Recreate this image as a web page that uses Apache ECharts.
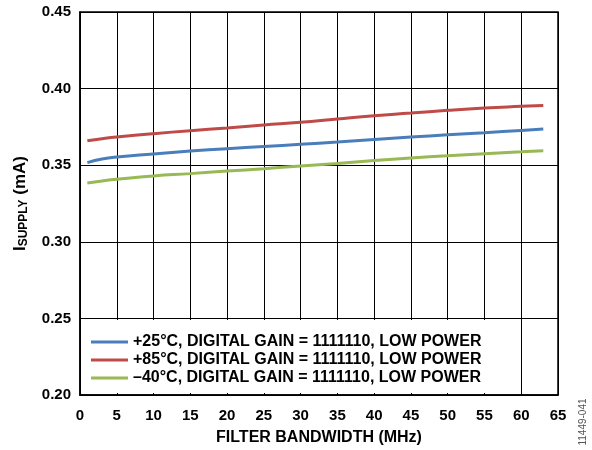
<!DOCTYPE html>
<html>
<head>
<meta charset="utf-8">
<script src="https://cdn.jsdelivr.net/npm/echarts@6/dist/echarts.min.js"></script>
<style>html,body{margin:0;padding:0;background:#fff}#c{width:592px;height:450px}</style>
</head>
<body>
<div id="c"></div>
<script>
const bandwidth = [1, 3, 5, 10, 15, 20, 25, 30, 35, 40, 45, 50, 55, 60, 63];
const blue25 = [0.3517, 0.3540, 0.3553, 0.3573, 0.3592, 0.3608, 0.3622, 0.3636, 0.3651, 0.3668, 0.3684, 0.3698, 0.3712, 0.3727, 0.3736];
const red85 = [0.3660, 0.3673, 0.3684, 0.3706, 0.3725, 0.3743, 0.3762, 0.3780, 0.3802, 0.3823, 0.3840, 0.3858, 0.3873, 0.3884, 0.3890];
const greenM40 = [0.3384, 0.3397, 0.3408, 0.3430, 0.3445, 0.3462, 0.3477, 0.3495, 0.3511, 0.3530, 0.3547, 0.3562, 0.3575, 0.3587, 0.3595];
const seriesNames = [
  '+25°C, DIGITAL GAIN = 1111110, LOW POWER',
  '+85°C, DIGITAL GAIN = 1111110, LOW POWER',
  '\u201340°C, DIGITAL GAIN = 1111110, LOW POWER'
];
const colors = ['#4a7ebb', '#be4b48', '#98b954'];
const pairs = a => bandwidth.map((x, i) => [x, a[i]]);
const font = 'Liberation Sans, Arial, sans-serif';

const chart = echarts.init(document.getElementById('c'));
chart.setOption({
  animation: false,
  color: colors,
  textStyle: { fontFamily: font },
  grid: { left: 80, right: 34, top: 12, bottom: 55, outerBoundsMode: 'none', containLabel: false, show: true, borderColor: '#000', borderWidth: 1.5, backgroundColor: 'transparent' },
  legend: {
    orient: 'vertical', left: 81, top: 320,
    padding: [13, 38, 6, 10],
    backgroundColor: '#fff',
    icon: 'rect', itemWidth: 37, itemHeight: 3, itemGap: 0,
    textStyle: { fontFamily: font, fontWeight: 'bold', fontSize: 16, color: '#000', lineHeight: 18 },
    data: seriesNames
  },
  xAxis: {
    type: 'value', min: 0, max: 65, interval: 5,
    name: 'FILTER BANDWIDTH (MHz)', nameLocation: 'middle', nameGap: 35,
    nameTextStyle: { fontFamily: font, fontWeight: 'bold', fontSize: 16, color: '#000' },
    axisLine: { show: true, lineStyle: { color: '#000', width: 1.5 } },
    axisTick: { show: false },
    axisLabel: { fontFamily: font, fontWeight: 'bold', fontSize: 15, color: '#000', margin: 13 },
    splitLine: { show: true, lineStyle: { color: '#000', width: 1 } }
  },
  yAxis: {
    type: 'value', min: 0.20, max: 0.45, interval: 0.05,
    name: '{a|I}{b|SUPPLY}{a| (mA)}', nameLocation: 'middle', nameGap: 50, nameRotate: 90,
    nameTextStyle: {
      rich: {
        a: { fontFamily: font, fontWeight: 'bold', fontSize: 17, color: '#000' },
        b: { fontFamily: font, fontWeight: 'bold', fontSize: 12, color: '#000', padding: [8, 0, 0, 0] }
      }
    },
    axisLine: { show: true, lineStyle: { color: '#000', width: 1.5 } },
    axisTick: { show: false },
    axisLabel: { fontFamily: font, fontWeight: 'bold', fontSize: 15, color: '#000', margin: 9, formatter: v => v.toFixed(2) },
    splitLine: { show: true, lineStyle: { color: '#000', width: 1 } }
  },
  series: [blue25, red85, greenM40].map((d, i) => ({
    name: seriesNames[i], type: 'line', data: pairs(d), smooth: true,
    showSymbol: false, symbol: 'none', lineStyle: { width: 3, color: colors[i] }, z: 3
  })),
  graphic: [{
    type: 'text', x: 583, y: 422, rotation: Math.PI / 2,
    style: { text: '11449-041', font: '10px ' + font, fill: '#555', align: 'center', verticalAlign: 'middle' }
  }]
});
</script>
</body>
</html>
